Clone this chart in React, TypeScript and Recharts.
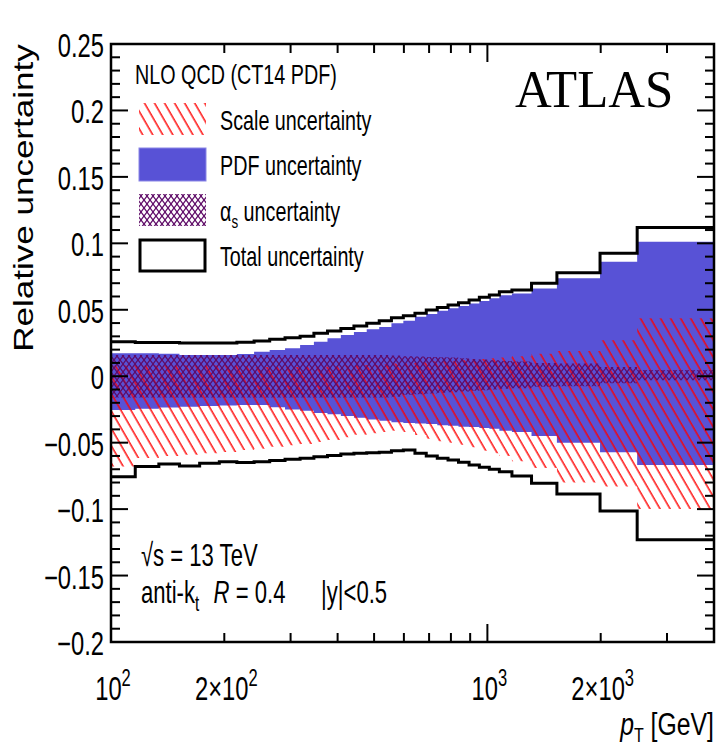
import { Area, ComposedChart, Line, XAxis, YAxis } from "recharts";

// bin edges in GeV, last entry closes the final bin
const ptEdges = [
  100, 116, 134, 152, 172, 194, 216, 240, 264, 290, 318, 346, 376, 408, 442, 478, 516, 556,
  598, 642, 688, 736, 786, 838, 894, 952, 1012, 1076, 1162, 1310, 1530, 1992, 2500, 4000,
];

const totalUp = [
  0.026, 0.0253, 0.0253, 0.025, 0.025, 0.025, 0.0255, 0.0265, 0.0278, 0.029, 0.03, 0.0323,
  0.034, 0.036, 0.0378, 0.0398, 0.0418, 0.044, 0.0455, 0.0474, 0.0498, 0.0518, 0.0536, 0.0553,
  0.0574, 0.0594, 0.0611, 0.0636, 0.0649, 0.07, 0.0779, 0.0925, 0.112,
];
const totalDown = [
  -0.0756, -0.068, -0.066, -0.0676, -0.0655, -0.0643, -0.065, -0.0643, -0.0635, -0.0625,
  -0.0618, -0.0606, -0.0596, -0.0586, -0.058, -0.0576, -0.0573, -0.056, -0.0555, -0.058, -0.06,
  -0.0618, -0.063, -0.0648, -0.0668, -0.0685, -0.07, -0.0718, -0.075, -0.0806, -0.0886, -0.1014,
  -0.123,
];
const pdfUp = [
  0.0172, 0.0172, 0.017, 0.016, 0.016, 0.016, 0.0168, 0.0184, 0.0197, 0.021, 0.0235, 0.026,
  0.0285, 0.031, 0.0333, 0.0353, 0.037, 0.0398, 0.0418, 0.0448, 0.0468, 0.0493, 0.0511, 0.0528,
  0.0548, 0.0566, 0.0586, 0.061, 0.0623, 0.066, 0.0737, 0.0862, 0.1012,
];
const pdfDown = [
  -0.0254, -0.0245, -0.0235, -0.023, -0.0225, -0.022, -0.0217, -0.0217, -0.0234, -0.025, -0.026,
  -0.0276, -0.0286, -0.03, -0.0313, -0.0325, -0.0336, -0.0346, -0.0352, -0.0356, -0.036, -0.0369,
  -0.0372, -0.038, -0.0383, -0.039, -0.0395, -0.041, -0.042, -0.045, -0.05, -0.0573, -0.0668,
];
const scaleUp = [
  0.008, 0.008, 0.008, 0.008, 0.008, 0.008, 0.0075, 0.007, 0.007, 0.007, 0.007, 0.0072, 0.0075,
  0.008, 0.0082, 0.0085, 0.009, 0.0095, 0.01, 0.0105, 0.011, 0.0112, 0.0115, 0.012, 0.0125,
  0.013, 0.0135, 0.014, 0.015, 0.017, 0.019, 0.027, 0.0436,
];
const scaleDown = [
  -0.068, -0.0615, -0.06, -0.059, -0.058, -0.057, -0.0555, -0.0545, -0.053, -0.052, -0.051,
  -0.0495, -0.048, -0.046, -0.044, -0.043, -0.042, -0.041, -0.042, -0.0443, -0.047, -0.049,
  -0.05, -0.0515, -0.0535, -0.056, -0.058, -0.06, -0.064, -0.069, -0.08, -0.083, -0.1,
];
const alphaUp = [
  0.016, 0.016, 0.016, 0.016, 0.016, 0.016, 0.016, 0.016, 0.016, 0.016, 0.016, 0.016, 0.016,
  0.016, 0.016, 0.016, 0.016, 0.0155, 0.015, 0.0148, 0.0145, 0.0142, 0.014, 0.0135, 0.013,
  0.0125, 0.012, 0.0115, 0.011, 0.01, 0.0095, 0.007, 0.0047,
];
const alphaDown = [
  -0.016, -0.016, -0.016, -0.016, -0.016, -0.016, -0.016, -0.016, -0.016, -0.016, -0.016,
  -0.016, -0.016, -0.016, -0.016, -0.016, -0.016, -0.0155, -0.014, -0.0135, -0.013, -0.0125,
  -0.012, -0.0115, -0.011, -0.0105, -0.01, -0.0095, -0.009, -0.008, -0.0075, -0.0053, -0.003,
];

const xTicks = [100, 200, 300, 400, 500, 600, 700, 800, 900, 1000, 2000, 3000];
const xMajor = [100, 1000];
const xLabels: Record<number, [string, string]> = {
  100: ["10", "2"],
  200: ["2×10", "2"],
  1000: ["10", "3"],
  2000: ["2×10", "3"],
};
const yMajor = [-0.2, -0.15, -0.1, -0.05, 0, 0.05, 0.1, 0.15, 0.2, 0.25];
const yTicks = Array.from({ length: 46 }, (_, i) => Math.round(-20 + i) / 100);

const rows = ptEdges.map((pt, i) => {
  const b = Math.min(i, totalUp.length - 1);
  return {
    pt,
    totUp: totalUp[b],
    totDn: totalDown[b],
    pdf: [pdfDown[b], pdfUp[b]],
    scale: [scaleDown[b], scaleUp[b]],
    alpha: [alphaDown[b], alphaUp[b]],
  };
});

const L = 111;
const R = 714;
const T = 44;
const B = 642;
const SANS = "'Liberation Sans', Arial, sans-serif";
const BLUE = "#5852d6";

function fmtY(v: number) {
  if (Math.abs(v) < 1e-9) return "0";
  return (v < 0 ? "−" : "") + String(Math.abs(v));
}

function YTick(props: any) {
  const { y, payload } = props;
  const v = payload.value;
  const major = yMajor.some((m) => Math.abs(m - v) < 1e-6);
  const len = major ? 17 : 9;
  return (
    <g>
      <line x1={L} x2={L + len} y1={y} y2={y} stroke="#000" strokeWidth={2} />
      <line x1={R} x2={R - len} y1={y} y2={y} stroke="#000" strokeWidth={2} />
      {major && (
        <text
          transform={`translate(104,${y + 13}) scale(0.72,1)`}
          textAnchor="end"
          fontSize={33}
          fontFamily={SANS}
          fill="#000"
        >
          {fmtY(v)}
        </text>
      )}
    </g>
  );
}

function XTick(props: any) {
  const { x, payload } = props;
  const v = payload.value;
  const len = xMajor.includes(v) ? 18 : 9;
  const lab = xLabels[v];
  return (
    <g>
      <line x1={x} x2={x} y1={B} y2={B - len} stroke="#000" strokeWidth={2} />
      <line x1={x} x2={x} y1={T} y2={T + len} stroke="#000" strokeWidth={2} />
      {lab && (
        <text
          transform={`translate(${x + 2},700) scale(0.72,1)`}
          textAnchor="middle"
          fontSize={33}
          fontFamily={SANS}
          fill="#000"
        >
          <tspan>{lab[0]}</tspan>
          <tspan dy={-14} fontSize={23}>
            {lab[1]}
          </tspan>
        </text>
      )}
    </g>
  );
}

function NText({ x, y, size = 28, sx = 0.7, anchor = "start", family = SANS, children }: any) {
  return (
    <text
      transform={`translate(${x},${y}) scale(${sx},1)`}
      fontSize={size}
      fontFamily={family}
      textAnchor={anchor}
      fill="#000"
    >
      {children}
    </text>
  );
}

export default function App() {
  return (
    <div style={{ position: "absolute", left: 0, top: 0, width: 718, height: 746, background: "#fff" }}>
      <svg width={0} height={0} style={{ position: "absolute" }}>
        <defs>
          <pattern id="scaleHatch" patternUnits="userSpaceOnUse" width={8.7} height={8.7} patternTransform="rotate(-30)">
            <line x1={4} y1={-1} x2={4} y2={10} stroke="#ff0000" strokeWidth={1.4} />
          </pattern>
          <pattern id="alphaHatch" patternUnits="userSpaceOnUse" width={6} height={8}>
            <line x1={0} y1={0} x2={6} y2={8} stroke="#5e0a66" strokeWidth={1.3} />
            <line x1={6} y1={0} x2={0} y2={8} stroke="#5e0a66" strokeWidth={1.3} />
          </pattern>
        </defs>
      </svg>
      <ComposedChart width={718} height={746} data={rows} margin={{ top: T, right: 718 - R, left: 0, bottom: 0 }}>
        <XAxis
          dataKey="pt"
          type="number"
          scale="log"
          domain={[100, 4000]}
          allowDataOverflow
          ticks={xTicks}
          interval={0}
          tick={(p: any) => <XTick {...p} />}
          tickLine={false}
          axisLine={false}
          height={746 - B}
        />
        <YAxis
          type="number"
          domain={[-0.2, 0.25]}
          allowDataOverflow
          ticks={yTicks}
          interval={0}
          tick={(p: any) => <YTick {...p} />}
          tickLine={false}
          axisLine={false}
          width={L}
        />
        <Area dataKey="pdf" type="stepAfter" fill={BLUE} fillOpacity={1} stroke="none" isAnimationActive={false} />
        <Area dataKey="scale" type="stepAfter" fill="url(#scaleHatch)" fillOpacity={1} stroke="none" isAnimationActive={false} />
        <Area dataKey="alpha" type="stepAfter" fill="url(#alphaHatch)" fillOpacity={1} stroke="none" isAnimationActive={false} />
        <Line dataKey="totUp" type="stepAfter" stroke="#000" strokeWidth={3} dot={false} activeDot={false} isAnimationActive={false} />
        <Line dataKey="totDn" type="stepAfter" stroke="#000" strokeWidth={3} dot={false} activeDot={false} isAnimationActive={false} />
      </ComposedChart>
      <svg width={718} height={746} style={{ position: "absolute", left: 0, top: 0, pointerEvents: "none" }}>
        <rect x={L} y={T} width={R - L} height={B - T} fill="none" stroke="#000" strokeWidth={2.5} />
        <text
          transform="translate(33,198) rotate(-90) scale(1.25,1)"
          textAnchor="middle"
          fontSize={28}
          fontFamily={SANS}
          fill="#000"
        >
          Relative uncertainty
        </text>
        <NText x={515} y={107} size={53} sx={0.96} family="'Liberation Serif', 'Times New Roman', serif">
          ATLAS
        </NText>
        <NText x={135} y={84} size={28} sx={0.705}>
          NLO QCD (CT14 PDF)
        </NText>

        <rect x={139} y={103} width={67} height={32} fill="url(#scaleHatch)" />
        <NText x={220} y={130} size={28} sx={0.705}>Scale uncertainty</NText>

        <rect x={139} y={148} width={67} height={33} fill={BLUE} stroke="#8a86e6" strokeWidth={1} />
        <NText x={220} y={175} size={28} sx={0.705}>PDF uncertainty</NText>

        <rect x={139} y={194} width={67} height={32} fill="url(#alphaHatch)" />
        <NText x={220} y={221} size={28} sx={0.705}>
          <tspan>α</tspan>
          <tspan dy={7} fontSize={19}>s</tspan>
          <tspan dy={-7}> uncertainty</tspan>
        </NText>

        <rect x={140} y={240} width={65} height={31} fill="#fff" stroke="#000" strokeWidth={3} />
        <NText x={220} y={266} size={28} sx={0.705}>Total uncertainty</NText>

        <NText x={141} y={566} size={32} sx={0.69}>√s = 13 TeV</NText>
        <NText x={141} y={603} size={32} sx={0.69}>
          <tspan>anti-k</tspan>
          <tspan dy={8} fontSize={22}>t</tspan>
          <tspan dy={-8}> </tspan>
          <tspan dx={12} fontStyle="italic">R</tspan>
          <tspan> = 0.4</tspan>
        </NText>
        <NText x={321} y={603} size={32} sx={0.69}>|y|&lt;0.5</NText>

        <NText x={714} y={735} size={31} sx={0.8} anchor="end">
          <tspan fontStyle="italic">p</tspan>
          <tspan dy={7} fontSize={20}>T</tspan>
          <tspan dy={-7}> [GeV]</tspan>
        </NText>
      </svg>
    </div>
  );
}
